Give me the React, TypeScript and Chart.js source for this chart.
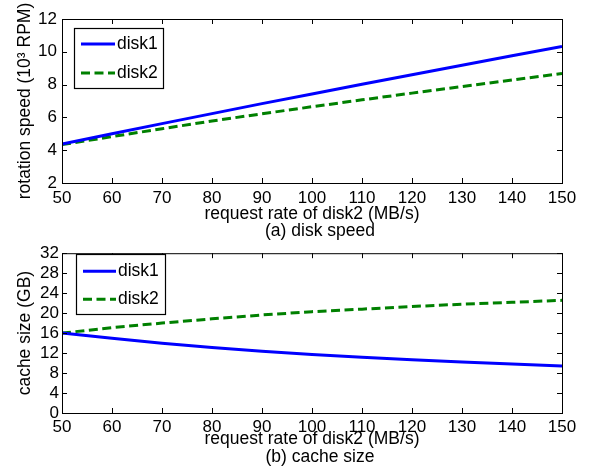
import React, { useEffect, useRef } from 'react';
import { Chart, registerables } from 'chart.js';

Chart.register(...registerables);

// ---- data ----
const requestRate = [50, 60, 70, 80, 90, 100, 110, 120, 130, 140, 150];
const seriesNames = ['disk1', 'disk2'];
const speedDisk1 = [4.38, 5.0, 5.62, 6.23, 6.84, 7.43, 8.02, 8.6, 9.18, 9.76, 10.33];
const speedDisk2 = [4.34, 4.83, 5.31, 5.78, 6.22, 6.65, 7.07, 7.48, 7.88, 8.28, 8.68];
const cacheDisk1 = [16, 14.95, 13.97, 13.13, 12.35, 11.7, 11.15, 10.65, 10.2, 9.8, 9.42];
const cacheDisk2 = [16, 17.1, 18.0, 18.85, 19.63, 20.29, 20.8, 21.33, 21.78, 22.17, 22.56];
const xTicks = [50, 60, 70, 80, 90, 100, 110, 120, 130, 140, 150];
const speedTicks = [2, 4, 6, 8, 10, 12];
const cacheTicks = [0, 4, 8, 12, 16, 20, 24, 28, 32];
const xTitle = 'request rate of disk2 (MB/s)';
const speedTitle = 'rotation speed (10\u00B3 RPM)';
const cacheTitle = 'cache size (GB)';
const captionA = '(a) disk speed';
const captionB = '(b) cache size';

const FONT = '"Liberation Sans", Arial, Helvetica, sans-serif';
Chart.defaults.font.family = FONT;
Chart.defaults.color = '#000';

const BLUE = '#0000ff';
const GREEN = '#008000';

const framePlugin = {
  id: 'matlabFrame',
  afterDatasetsDraw(chart: any) {
    const { ctx, chartArea: a, scales } = chart;
    ctx.save();
    ctx.strokeStyle = '#000';
    ctx.lineWidth = 1;
    ctx.strokeRect(a.left + 0.5, a.top + 0.5, a.right - a.left, a.bottom - a.top);
    const L = 5;
    ctx.beginPath();
    scales.x.ticks.forEach((t: any) => {
      const px = Math.round(scales.x.getPixelForValue(t.value)) + 0.5;
      ctx.moveTo(px, a.bottom);
      ctx.lineTo(px, a.bottom - L);
      ctx.moveTo(px, a.top);
      ctx.lineTo(px, a.top + L);
    });
    scales.y.ticks.forEach((t: any) => {
      const py = Math.round(scales.y.getPixelForValue(t.value)) + 0.5;
      ctx.moveTo(a.left, py);
      ctx.lineTo(a.left + L, py);
      ctx.moveTo(a.right, py);
      ctx.lineTo(a.right - L, py);
    });
    ctx.stroke();
    ctx.restore();
  },
};

const boxLegendPlugin = {
  id: 'boxLegend',
  afterDraw(chart: any, _args: any, o: any) {
    const { ctx, chartArea: a } = chart;
    const x0 = Math.round(a.left + o.dx) + 0.5;
    const y0 = Math.round(a.top + o.dy) + 0.5;
    ctx.save();
    ctx.fillStyle = '#fff';
    ctx.fillRect(x0, y0, o.w, o.h);
    ctx.strokeStyle = '#000';
    ctx.lineWidth = 1.2;
    ctx.strokeRect(x0, y0, o.w, o.h);
    chart.data.datasets.forEach((ds: any, i: number) => {
      const y = a.top + o.rows[i];
      ctx.beginPath();
      ctx.strokeStyle = ds.borderColor;
      ctx.lineWidth = ds.borderWidth;
      ctx.setLineDash(ds.borderDash || []);
      ctx.moveTo(a.left + o.lx0, y);
      ctx.lineTo(a.left + o.lx1, y);
      ctx.stroke();
      ctx.setLineDash([]);
      ctx.fillStyle = '#000';
      ctx.font = `17.5px ${FONT}`;
      ctx.textAlign = 'left';
      ctx.textBaseline = 'middle';
      ctx.fillText(ds.label, a.left + o.tx, y);
    });
    ctx.restore();
  },
};

const captionPlugin = {
  id: 'caption',
  afterDraw(chart: any, _args: any, o: any) {
    const { ctx, chartArea: a } = chart;
    ctx.save();
    ctx.fillStyle = '#000';
    ctx.font = `17.5px ${FONT}`;
    ctx.textAlign = 'center';
    ctx.textBaseline = 'middle';
    ctx.fillText(o.text, (a.left + a.right) / 2 + 8, o.y);
    ctx.restore();
  },
};

function makeConfig(p: any) {
  const pts = (ys: number[]) => requestRate.map((x, i) => ({ x, y: ys[i] }));
  return {
    type: 'line',
    data: {
      datasets: [
        {
          label: seriesNames[0],
          data: pts(p.s1),
          borderColor: BLUE,
          borderWidth: 3,
          pointRadius: 0,
          tension: 0,
          fill: false,
        },
        {
          label: seriesNames[1],
          data: pts(p.s2),
          borderColor: GREEN,
          borderWidth: 3,
          borderDash: [9, 4.5],
          pointRadius: 0,
          tension: 0,
          fill: false,
        },
      ],
    },
    options: {
      responsive: false,
      animation: false,
      events: [],
      layout: { padding: { left: 0, right: 30, top: p.padTop, bottom: 0 } },
      scales: {
        x: {
          type: 'linear',
          min: 50,
          max: 150,
          afterBuildTicks: (s: any) => {
            s.ticks = xTicks.map((v) => ({ value: v }));
          },
          afterFit: (s: any) => {
            s.height = p.xHeight;
          },
          grid: { display: false, drawTicks: false },
          border: { display: false },
          ticks: { font: { size: 17 }, color: '#000', padding: p.xTickPad, maxRotation: 0, autoSkip: false },
          title: {
            display: true,
            text: xTitle,
            color: '#000',
            font: { size: 17.5 },
            padding: { top: 0, bottom: p.xTitlePad },
          },
        },
        y: {
          type: 'linear',
          min: p.yMin,
          max: p.yMax,
          afterBuildTicks: (s: any) => {
            s.ticks = p.yTicks.map((v: number) => ({ value: v }));
          },
          afterFit: (s: any) => {
            s.width = 62;
          },
          grid: { display: false, drawTicks: false },
          border: { display: false },
          ticks: { font: { size: 17 }, color: '#000', padding: p.yTickPad, autoSkip: false },
          title: {
            display: true,
            text: p.yTitle,
            color: '#000',
            font: { size: 17.5 },
            padding: { top: 15, bottom: 0 },
          },
        },
      },
      plugins: {
        legend: { display: false },
        tooltip: { enabled: false },
        boxLegend: p.legend,
        caption: { text: p.caption, y: p.captionY },
      },
    },
    plugins: [framePlugin, boxLegendPlugin, captionPlugin],
  } as any;
}

export default function App() {
  const topRef = useRef<HTMLCanvasElement>(null);
  const botRef = useRef<HTMLCanvasElement>(null);

  useEffect(() => {
    const c1 = new Chart(
      topRef.current!,
      makeConfig({
        s1: speedDisk1,
        s2: speedDisk2,
        yMin: 2,
        yMax: 12,
        yTicks: speedTicks,
        yTitle: speedTitle,
        padTop: 19,
        xHeight: 57,
        xTickPad: 5,
        yTickPad: 5,
        xTitlePad: 15,
        caption: captionA,
        captionY: 231,
        legend: { dx: 12, dy: 9, w: 89, h: 60, lx0: 19, lx1: 53, tx: 55, rows: [25, 54] },
      })
    );
    const c2 = new Chart(
      botRef.current!,
      makeConfig({
        s1: cacheDisk1,
        s2: cacheDisk2,
        yMin: 0,
        yMax: 32,
        yTicks: cacheTicks,
        yTitle: cacheTitle,
        padTop: 9,
        xHeight: 59,
        xTickPad: 4,
        yTickPad: 3,
        xTitlePad: 22,
        caption: captionB,
        captionY: 217,
        legend: { dx: 14, dy: 1, w: 89, h: 60, lx0: 21, lx1: 54, tx: 56, rows: [18, 46] },
      })
    );
    return () => {
      c1.destroy();
      c2.destroy();
    };
  }, []);

  return (
    <div style={{ position: 'absolute', left: 0, top: 0, width: 592, height: 472, background: '#fff' }}>
      <canvas
        ref={topRef}
        width={592}
        height={240}
        style={{ position: 'absolute', left: 0, top: 0, width: 592, height: 240 }}
      />
      <canvas
        ref={botRef}
        width={592}
        height={232}
        style={{ position: 'absolute', left: 0, top: 240, width: 592, height: 232 }}
      />
    </div>
  );
}
